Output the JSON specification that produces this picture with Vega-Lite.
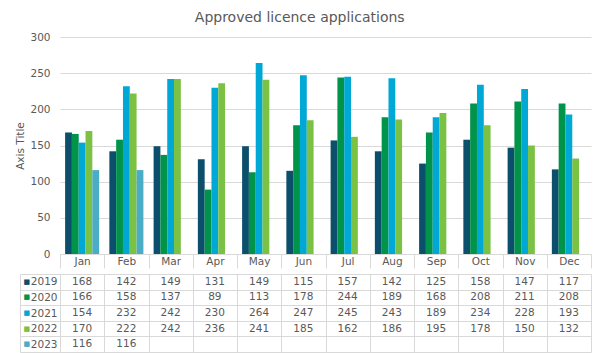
{
  "$schema": "https://vega.github.io/schema/vega-lite/v6.json",
  "background": "white",
  "padding": {"left": 15, "top": 11, "right": 12, "bottom": 6},
  "title": {"text": "Approved licence applications", "anchor": "middle", "frame": "bounds", "fontSize": 14, "fontWeight": "normal", "color": "#595959", "font": "DejaVu Sans", "offset": 7, "dx": -4},
  "datasets": {
    "d": [
      {"m": "Jan", "y": "2019", "v": 168}, {"m": "Feb", "y": "2019", "v": 142}, {"m": "Mar", "y": "2019", "v": 149}, {"m": "Apr", "y": "2019", "v": 131}, {"m": "May", "y": "2019", "v": 149}, {"m": "Jun", "y": "2019", "v": 115}, {"m": "Jul", "y": "2019", "v": 157}, {"m": "Aug", "y": "2019", "v": 142}, {"m": "Sep", "y": "2019", "v": 125}, {"m": "Oct", "y": "2019", "v": 158}, {"m": "Nov", "y": "2019", "v": 147}, {"m": "Dec", "y": "2019", "v": 117},
      {"m": "Jan", "y": "2020", "v": 166}, {"m": "Feb", "y": "2020", "v": 158}, {"m": "Mar", "y": "2020", "v": 137}, {"m": "Apr", "y": "2020", "v": 89}, {"m": "May", "y": "2020", "v": 113}, {"m": "Jun", "y": "2020", "v": 178}, {"m": "Jul", "y": "2020", "v": 244}, {"m": "Aug", "y": "2020", "v": 189}, {"m": "Sep", "y": "2020", "v": 168}, {"m": "Oct", "y": "2020", "v": 208}, {"m": "Nov", "y": "2020", "v": 211}, {"m": "Dec", "y": "2020", "v": 208},
      {"m": "Jan", "y": "2021", "v": 154}, {"m": "Feb", "y": "2021", "v": 232}, {"m": "Mar", "y": "2021", "v": 242}, {"m": "Apr", "y": "2021", "v": 230}, {"m": "May", "y": "2021", "v": 264}, {"m": "Jun", "y": "2021", "v": 247}, {"m": "Jul", "y": "2021", "v": 245}, {"m": "Aug", "y": "2021", "v": 243}, {"m": "Sep", "y": "2021", "v": 189}, {"m": "Oct", "y": "2021", "v": 234}, {"m": "Nov", "y": "2021", "v": 228}, {"m": "Dec", "y": "2021", "v": 193},
      {"m": "Jan", "y": "2022", "v": 170}, {"m": "Feb", "y": "2022", "v": 222}, {"m": "Mar", "y": "2022", "v": 242}, {"m": "Apr", "y": "2022", "v": 236}, {"m": "May", "y": "2022", "v": 241}, {"m": "Jun", "y": "2022", "v": 185}, {"m": "Jul", "y": "2022", "v": 162}, {"m": "Aug", "y": "2022", "v": 186}, {"m": "Sep", "y": "2022", "v": 195}, {"m": "Oct", "y": "2022", "v": 178}, {"m": "Nov", "y": "2022", "v": 150}, {"m": "Dec", "y": "2022", "v": 132},
      {"m": "Jan", "y": "2023", "v": 116}, {"m": "Feb", "y": "2023", "v": 116}
    ]
  },
  "spacing": 0,
  "vconcat": [
    {
      "width": 531,
      "height": 217,
      "data": {"name": "d"},
      "mark": {"type": "bar"},
      "encoding": {
        "x": {"field": "m", "type": "nominal", "sort": ["Jan","Feb","Mar","Apr","May","Jun","Jul","Aug","Sep","Oct","Nov","Dec"],
          "scale": {"paddingInner": 0, "paddingOuter": 0},
          "axis": {"title": null, "orient": "bottom", "labelAngle": 0, "domainColor": "#D9D9D9", "tickColor": "#D9D9D9", "tickSize": 14, "tickBand": "extent", "labelBaseline": "middle", "labelPadding": -7, "labelColor": "#595959", "labelFontSize": 10.5, "labelFont": "DejaVu Sans", "minExtent": 14, "maxExtent": 14}},
        "xOffset": {"field": "y", "type": "nominal", "scale": {"domain": ["2019","2020","2021","2022","2023"], "paddingInner": 0, "paddingOuter": 0.75}},
        "y": {"field": "v", "type": "quantitative", "scale": {"domain": [0, 300]},
          "axis": {"title": "Axis Title", "values": [0,50,100,150,200,250,300], "domain": false, "ticks": false, "gridColor": "#D9D9D9", "labelPadding": 10, "labelColor": "#595959", "labelFontSize": 10.5, "labelFont": "DejaVu Sans", "titleFont": "DejaVu Sans", "titleFontSize": 10.5, "titleFontWeight": "normal", "titleColor": "#595959", "titlePadding": 4}},
        "color": {"field": "y", "type": "nominal", "scale": {"domain": ["2019","2020","2021","2022","2023"], "range": ["#0B4F6C","#00934A","#00A8D6","#7BC143","#4BACC6"]}, "legend": null}
      }
    },
    {
      "width": 531,
      "height": 78,
      "data": {"name": "d"},
      "resolve": {"axis": {"y": "independent"}},
      "layer": [
        {
          "mark": {"type": "text", "fontSize": 10.5, "font": "DejaVu Sans", "color": "#595959"},
          "encoding": {
            "x": {"field": "m", "type": "nominal", "sort": ["Jan","Feb","Mar","Apr","May","Jun","Jul","Aug","Sep","Oct","Nov","Dec"],
              "scale": {"paddingInner": 0, "paddingOuter": 0},
              "axis": {"orient": "top", "title": null, "labels": false, "ticks": false, "domain": true, "domainColor": "#D9D9D9", "grid": true, "gridColor": "#D9D9D9", "tickBand": "extent", "minExtent": 0, "maxExtent": 0}},
            "y": {"field": "y", "type": "nominal", "scale": {"domain": ["2019","2020","2021","2022","2023"], "paddingInner": 0, "paddingOuter": 0},
              "axis": {"orient": "left", "title": null, "domain": true, "domainColor": "#D9D9D9", "grid": true, "gridColor": "#D9D9D9", "tickBand": "extent", "ticks": true, "tickSize": 40, "tickColor": "#D9D9D9", "labelAlign": "right", "labelPadding": -37, "labelColor": "#595959", "labelFontSize": 10.5, "labelFont": "DejaVu Sans"}},
            "text": {"field": "v", "type": "quantitative"}
          }
        },
        {
          "mark": {"type": "point", "opacity": 0},
          "encoding": {
            "y": {"field": "y", "type": "nominal",
              "axis": {"orient": "left", "offset": 40, "title": null, "domain": true, "domainColor": "#D9D9D9", "grid": false, "ticks": false, "labelAlign": "left", "labelPadding": -3, "labelExpr": "'■'", "labelFontSize": 7, "labelFont": "DejaVu Sans",
                "labelColor": {"condition": [{"test": "datum.value === '2019'", "value": "#0B4F6C"}, {"test": "datum.value === '2020'", "value": "#00934A"}, {"test": "datum.value === '2021'", "value": "#00A8D6"}, {"test": "datum.value === '2022'", "value": "#7BC143"}], "value": "#4BACC6"}}}
          }
        }
      ]
    }
  ],
  "config": {"view": {"stroke": null}, "axis": {"labelFont": "DejaVu Sans"}}
}
